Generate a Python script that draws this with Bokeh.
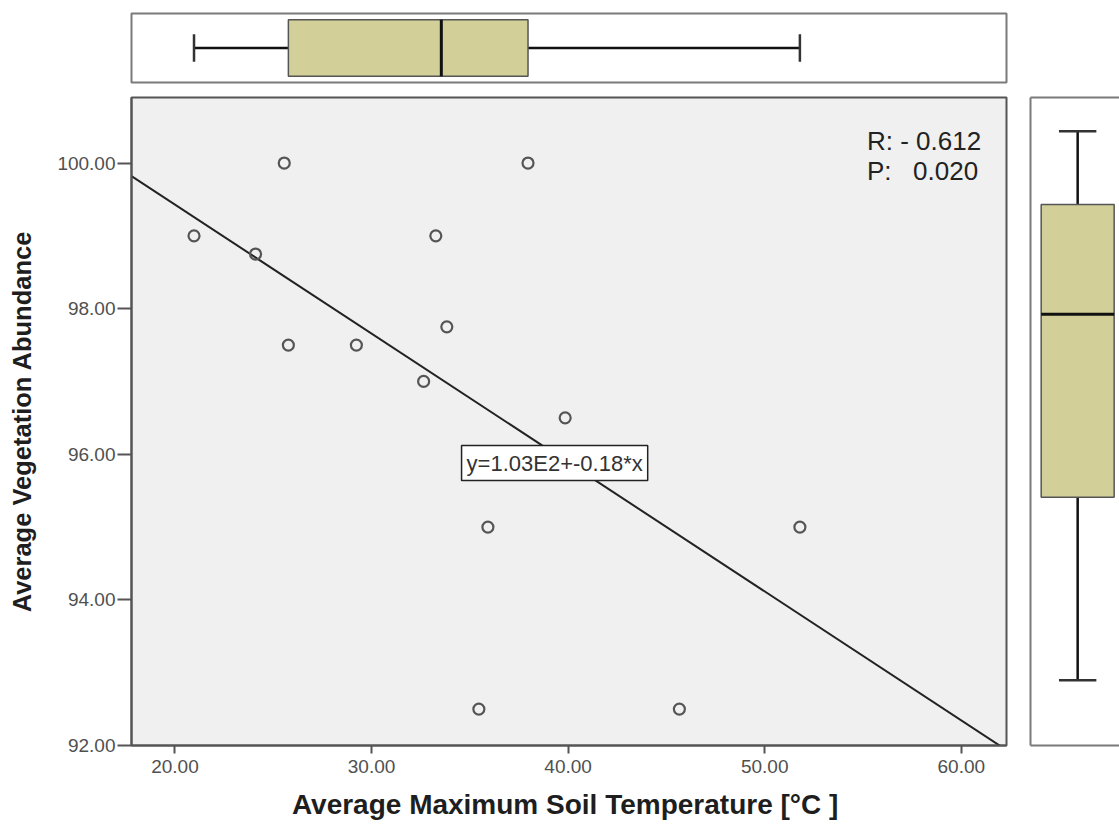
import numpy as np
from bokeh.plotting import figure
from bokeh.layouts import column, row
from bokeh.models import Range1d, FixedTicker, NumeralTickFormatter, Label, LinearAxis
from bokeh.embed import file_html
from bokeh.resources import INLINE

# ---------------- data ----------------
soil_temp = [20.97, 24.10, 25.56, 25.77, 29.23, 32.65, 33.27, 33.83, 37.96, 39.85, 35.92, 51.79, 35.46, 45.66]
veg_abund = [99.0, 98.75, 100.0, 97.5, 97.5, 97.0, 99.0, 97.75, 100.0, 96.5, 95.0, 95.0, 92.5, 92.5]
x_ticks = [20, 30, 40, 50, 60]
y_ticks = [92, 94, 96, 98, 100]
x_title = "Average Maximum Soil  Temperature [°C ]"
y_title = "Average Vegetation Abundance"
stat_r = "R: - 0.612"
stat_p_label = "P:"
stat_p_value = "0.020"
equation = "y=1.03E2+-0.18*x"

FONT = "Liberation Sans"
BOX_FILL = "#d3cf98"
FRAME = "#555555"
PANEL = "#7a7a7a"


def tukey(vals):
    s = np.sort(np.asarray(vals, float))
    n = len(s)
    h = (n + 1) // 2
    return s[0], float(np.median(s[:h])), float(np.median(s)), float(np.median(s[n - h:])), s[-1]


xr = Range1d(17.79, 62.3)
yr = Range1d(92.0, 100.9)

# ---------------- main scatter ----------------
main = figure(width=1020, height=738, x_range=xr, y_range=yr,
              output_backend="svg", toolbar_location=None,
              min_border_left=131, min_border_right=14,
              min_border_top=7, min_border_bottom=80)
main.background_fill_color = "#f0f0f0"
main.border_fill_color = "white"
main.outline_line_color = FRAME
main.outline_line_width = 2
main.grid.visible = False

for ax in (main.xaxis[0], main.yaxis[0]):
    ax.axis_line_color = FRAME
    ax.axis_line_width = 2
    ax.major_tick_line_color = FRAME
    ax.major_tick_line_width = 2
    ax.major_tick_in = 0
    ax.minor_tick_line_color = None
    ax.formatter = NumeralTickFormatter(format="0.00")
    ax.major_label_text_font = FONT
    ax.major_label_text_font_size = "19px"
    ax.major_label_text_color = "#505050"
    ax.axis_label_text_font = FONT
    ax.axis_label_text_font_style = "bold"
    ax.axis_label_text_color = "#1e1e1e"

main.xaxis.ticker = FixedTicker(ticks=x_ticks)
main.yaxis.ticker = FixedTicker(ticks=y_ticks)
main.xaxis.major_tick_out = 8
main.yaxis.major_tick_out = 14
main.xaxis.major_label_standoff = 6
main.yaxis.major_label_standoff = 2
main.xaxis.axis_label = x_title
main.yaxis.axis_label = y_title
main.xaxis.axis_label_text_font_size = "28px"
main.yaxis.axis_label_text_font_size = "25.5px"
main.xaxis.axis_label_standoff = 13
main.yaxis.axis_label_standoff = 18

# regression line from the data
slope, intercept = np.polyfit(soil_temp, veg_abund, 1)
lx = np.array([xr.start, xr.end])
main.line(lx, intercept + slope * lx, line_color="#222222", line_width=2)

main.scatter(soil_temp, veg_abund, marker="circle", size=11,
             fill_color=None, line_color="#555555", line_width=2.2)

main.add_layout(Label(x=55.2, y=100.30, text=stat_r, text_font=FONT,
                      text_font_size="26px", text_color="#222222",
                      text_baseline="alphabetic"))
main.add_layout(Label(x=55.2, y=99.89, text=stat_p_label, text_font=FONT,
                      text_font_size="26px", text_color="#222222",
                      text_baseline="alphabetic"))
main.add_layout(Label(x=57.55, y=99.89, text=stat_p_value, text_font=FONT,
                      text_font_size="26px", text_color="#222222",
                      text_baseline="alphabetic"))
main.add_layout(Label(x=34.58, y=95.88, text=equation, text_font=FONT,
                      text_font_size="22px", text_color="#333333",
                      text_align="left", text_baseline="middle",
                      background_fill_color="white",
                      border_line_color="#222222", border_line_width=1.5,
                      padding=5))

# ---------------- top box plot (x) ----------------
top = figure(width=1020, height=90, x_range=xr, y_range=Range1d(0, 1),
             output_backend="svg", toolbar_location=None,
             x_axis_type=None, y_axis_type=None,
             min_border_left=131, min_border_right=14,
             min_border_top=13, min_border_bottom=8)
top.grid.visible = False
top.outline_line_color = PANEL
top.outline_line_width = 2
top.background_fill_color = "white"
tmin, tq1, tmed, tq3, tmax = tukey(soil_temp)
yc, bh, ch = 0.5, 0.41, 0.2
top.segment([tmin, tq3], [yc, yc], [tq1, tmax], [yc, yc], line_color="#111111", line_width=2.5)
top.segment([tmin, tmax], [yc - ch, yc - ch], [tmin, tmax], [yc + ch, yc + ch],
            line_color="#333333", line_width=2.5)
top.quad(left=[tq1], right=[tq3], bottom=[yc - bh], top=[yc + bh],
         fill_color=BOX_FILL, line_color="#555555", line_width=1.5)
top.segment([tmed], [yc - bh], [tmed], [yc + bh], line_color="#111111", line_width=3)

# ---------------- right box plot (y) ----------------
right = figure(width=99, height=738, x_range=Range1d(0, 1), y_range=Range1d(91.61, 100.46),
               output_backend="svg", toolbar_location=None,
               x_axis_type=None, y_axis_type=None,
               min_border_left=10, min_border_right=0,
               min_border_top=7, min_border_bottom=83)
right.grid.visible = False
right.outline_line_color = None
for side in ("left", "above", "below"):
    a = LinearAxis(ticker=FixedTicker(ticks=[]))
    a.axis_line_color = PANEL
    a.axis_line_width = 2
    a.major_tick_line_color = None
    a.minor_tick_line_color = None
    right.add_layout(a, side)
vmin, vq1, vmed, vq3, vmax = tukey(veg_abund)
xc, bw, cw = 0.53, 0.41, 0.21
right.segment([xc, xc], [vmin, vq3], [xc, xc], [vq1, vmax], line_color="#111111", line_width=2.5)
right.segment([xc - cw, xc - cw], [vmin, vmax], [xc + cw, xc + cw], [vmin, vmax],
              line_color="#333333", line_width=2.5)
right.quad(left=[xc - bw], right=[xc + bw], bottom=[vq1], top=[vq3],
           fill_color=BOX_FILL, line_color="#555555", line_width=1.5)
right.segment([xc - bw], [vmed], [xc + bw], [vmed], line_color="#111111", line_width=3)

layout = column(top, row(main, right))
open("out.html", "w").write(file_html(layout, INLINE))
